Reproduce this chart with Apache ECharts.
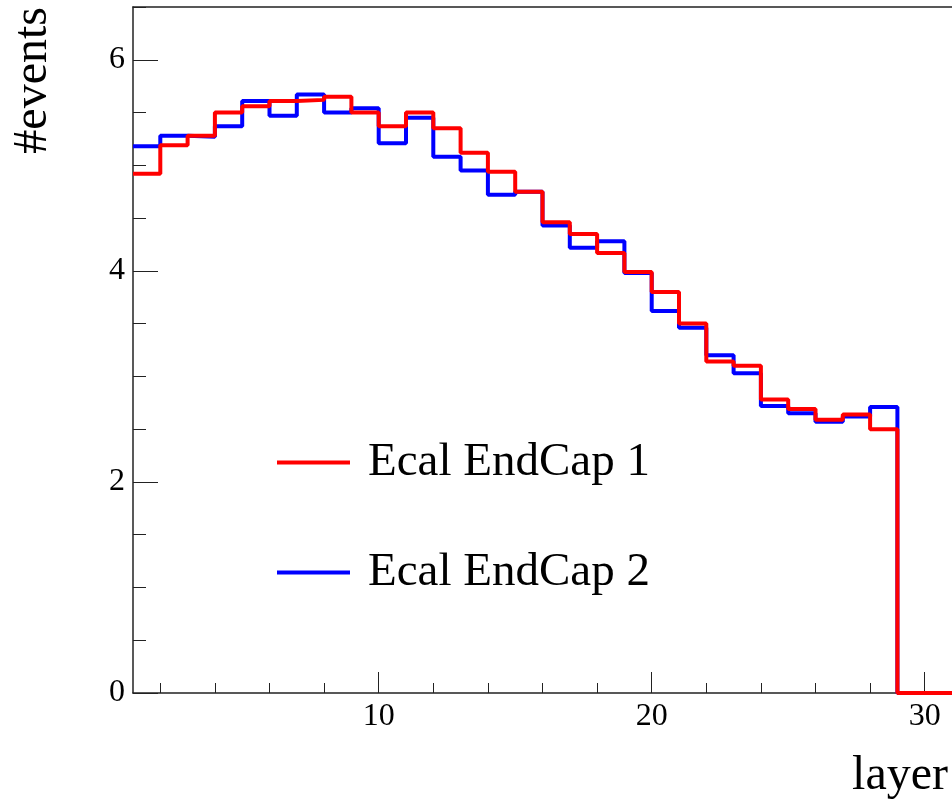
<!DOCTYPE html>
<html>
<head>
<meta charset="utf-8">
<script src="https://cdn.jsdelivr.net/npm/echarts@6/dist/echarts.min.js"></script>
<style>
  html, body { margin: 0; padding: 0; background: #fff; }
  #chart { width: 952px; height: 803px; }
</style>
</head>
<body>
<div id="chart"></div>
<script>
// ---- data ----
const layers = [1, 2, 3, 4, 5, 6, 7, 8, 9, 10, 11, 12, 13, 14, 15, 16, 17, 18, 19, 20, 21, 22, 23, 24, 25, 26, 27, 28, 29, 30];
const endcap1 = [4.92, 5.19, 5.28, 5.50, 5.56, 5.61, 5.62, 5.65, 5.50, 5.37, 5.50, 5.35, 5.12, 4.94, 4.75, 4.46, 4.35, 4.17, 3.99, 3.80, 3.50, 3.14, 3.10, 2.78, 2.69, 2.59, 2.64, 2.50, 0, 0];
const endcap2 = [5.18, 5.28, 5.27, 5.37, 5.61, 5.47, 5.67, 5.50, 5.54, 5.21, 5.45, 5.08, 4.95, 4.72, 4.75, 4.43, 4.22, 4.28, 3.98, 3.62, 3.46, 3.20, 3.03, 2.72, 2.65, 2.57, 2.62, 2.71, 0, 0];
const seriesNames = ['Ecal EndCap 1', 'Ecal EndCap 2'];
const seriesColors = ['#ff0000', '#0000ff'];
const xMajorTicks = [10, 20, 30];
const xMinorTicks = [2, 4, 6, 8, 12, 14, 16, 18, 22, 24, 26, 28];
const yLabelValues = [0, 2, 4, 6];
const xTitle = 'layer';
const yTitle = '#events';

const FONT = '"Liberation Serif", "Times New Roman", serif';

// histogram as step line: each bin starts at its layer, closed at the last edge
function histData(vals) {
  const d = layers.map((x, i) => [x, vals[i]]);
  d.push([layers[layers.length - 1] + 1, vals[vals.length - 1]]);
  return d;
}

const chart = echarts.init(document.getElementById('chart'), null, { renderer: 'canvas' });
chart.setOption({
  backgroundColor: '#fff',
  animation: false,
  grid: { left: 133, right: 0, top: 7, bottom: 110, containLabel: false, outerBoundsMode: 'none' },
  legend: {
    orient: 'vertical', left: 277, top: 439, padding: 0,
    itemWidth: 73, itemHeight: 4, itemGap: 63,
    data: seriesNames.map((n, i) => ({ name: n, icon: 'rect', itemStyle: { color: seriesColors[i] } })),
    textStyle: { fontFamily: FONT, fontSize: 47, color: '#000', padding: [0, 0, 0, 13] }
  },
  xAxis: [
    {
      type: 'value', min: 1, max: 31, position: 'bottom',
      axisLine: { show: true, lineStyle: { color: '#222', width: 1.5 } },
      axisTick: { show: true, inside: true, length: 21, customValues: xMajorTicks, lineStyle: { color: '#222', width: 1 } },
      axisLabel: { show: true, customValues: xMajorTicks, fontFamily: FONT, fontSize: 32, color: '#000', margin: 8 },
      splitLine: { show: false },
      name: xTitle, nameLocation: 'end', nameGap: 0,
      nameTextStyle: { fontFamily: FONT, fontSize: 48, color: '#000', align: 'right', verticalAlign: 'top', padding: [59, 4, 0, 0] }
    },
    {
      type: 'value', min: 1, max: 31, position: 'bottom',
      axisLine: { show: false },
      axisTick: { show: true, inside: true, length: 10, customValues: xMinorTicks, lineStyle: { color: '#222', width: 1 } },
      axisLabel: { show: false },
      splitLine: { show: false }
    },
    {
      type: 'value', min: 1, max: 31, position: 'top',
      axisLine: { show: true, lineStyle: { color: '#222', width: 1.5 } },
      axisTick: { show: false }, axisLabel: { show: false }, splitLine: { show: false }
    }
  ],
  yAxis: [
    {
      type: 'value', min: 0, max: 6.5, interval: 2, position: 'left',
      axisLine: { show: true, lineStyle: { color: '#222', width: 1.5 } },
      axisTick: { show: true, inside: true, length: 25, customValues: yLabelValues, lineStyle: { color: '#222', width: 1 } },
      axisLabel: { show: true, customValues: yLabelValues, fontFamily: FONT, fontSize: 32, color: '#000', margin: 8 },
      splitLine: { show: false },
      name: yTitle, nameLocation: 'end', nameGap: 0, nameRotate: 90, nameMoveOverlap: false,
      nameTextStyle: { fontFamily: FONT, fontSize: 48, color: '#000', align: 'right', verticalAlign: 'bottom', padding: [0, 0, 76, 0] }
    },
    {
      type: 'value', min: 0, max: 6.5, interval: 0.5, position: 'left',
      axisLine: { show: false },
      axisTick: { show: true, inside: true, length: 13, lineStyle: { color: '#222', width: 1 } },
      axisLabel: { show: false },
      splitLine: { show: false }
    }
  ],
  series: [
    {
      name: seriesNames[1], type: 'line', step: 'end', xAxisIndex: 0, yAxisIndex: 0,
      data: histData(endcap2), symbol: 'none', clip: false,
      lineStyle: { color: seriesColors[1], width: 4 }, itemStyle: { color: seriesColors[1] }, z: 2
    },
    {
      name: seriesNames[0], type: 'line', step: 'end', xAxisIndex: 0, yAxisIndex: 0,
      data: histData(endcap1), symbol: 'none', clip: false,
      lineStyle: { color: seriesColors[0], width: 4 }, itemStyle: { color: seriesColors[0] }, z: 3
    }
  ]
});
</script>
</body>
</html>
